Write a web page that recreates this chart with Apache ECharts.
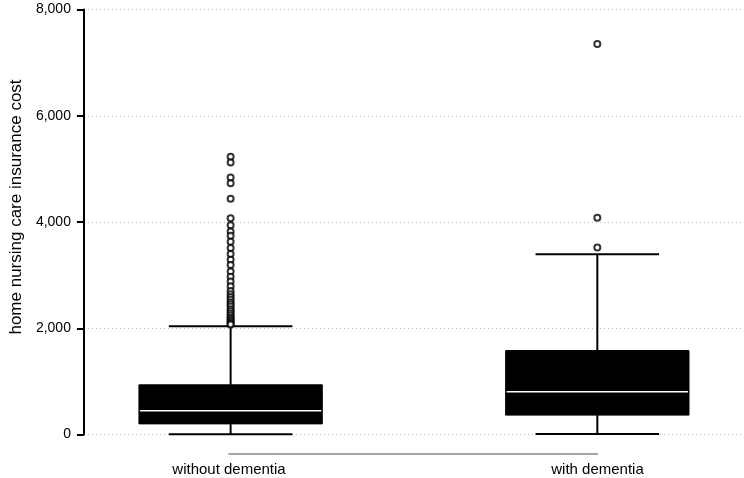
<!DOCTYPE html>
<html>
<head>
<meta charset="utf-8">
<script src="https://cdn.jsdelivr.net/npm/echarts@6/dist/echarts.min.js"></script>
<style>html,body{margin:0;padding:0;background:#fff;}#main{width:744px;height:478px;}</style>
</head>
<body>
<div id="main"></div>
<script>
// ---- data ----
var categories = ['without dementia', 'with dementia'];
// [lower whisker, Q1, median, Q3, upper whisker]
var boxStats = [
  [5, 200, 445, 935, 2040],
  [10, 365, 805, 1580, 3395]
];
var outliersWithout = [5230, 5120, 4840, 4730, 4440, 4070, 3940, 3820, 3740, 3630, 3510, 3400, 3290, 3190, 3070, 2970, 2880, 2790, 2700, 2640, 2590, 2540, 2490, 2450, 2410, 2360, 2320, 2280, 2240, 2200, 2170, 2140, 2110, 2090, 2070];
var outliersWith = [7350, 4080, 3520];
var yTicks = [0, 2000, 4000, 6000, 8000];

var boxData = boxStats.map(function (s, i) { return [i].concat(s); });
var outWithoutData = outliersWithout.map(function (v) { return [0, v]; });
var outWithData = outliersWith.map(function (v) { return [1, v]; });

var chart = echarts.init(document.getElementById('main'));
var FONT = 'Liberation Sans, Arial, sans-serif';
var BOX_W = 0.5, CAP_W = 0.337;

function renderBox(params, api) {
  var x = api.value(0);
  var lo = api.coord([x, api.value(1)]);
  var q1 = api.coord([x, api.value(2)]);
  var md = api.coord([x, api.value(3)]);
  var q3 = api.coord([x, api.value(4)]);
  var hi = api.coord([x, api.value(5)]);
  var bw = api.size([BOX_W, 0])[0];
  var cw = api.size([CAP_W, 0])[0];
  var cx = q1[0];
  var lineStyle = { stroke: '#000', lineWidth: 2 };
  return {
    type: 'group',
    children: [
      { type: 'line', shape: { x1: cx, y1: lo[1], x2: cx, y2: q1[1] }, style: lineStyle },
      { type: 'line', shape: { x1: cx, y1: q3[1], x2: cx, y2: hi[1] }, style: lineStyle },
      { type: 'line', shape: { x1: cx - cw / 2, y1: lo[1], x2: cx + cw / 2, y2: lo[1] }, style: lineStyle },
      { type: 'line', shape: { x1: cx - cw / 2, y1: hi[1], x2: cx + cw / 2, y2: hi[1] }, style: lineStyle },
      { type: 'rect', shape: { x: cx - bw / 2, y: q3[1], width: bw, height: q1[1] - q3[1] }, style: { fill: '#000', stroke: '#000', lineWidth: 1 } },
      { type: 'line', shape: { x1: cx - bw / 2 + 1, y1: md[1], x2: cx + bw / 2 - 1, y2: md[1] }, style: { stroke: '#fff', lineWidth: 1.5 } }
    ]
  };
}

var outlierStyle = { color: '#fff', borderColor: '#000', borderWidth: 2 };

chart.setOption({
  animation: false,
  backgroundColor: '#fff',
  grid: [
    { left: 81, right: 0, top: 9.5, bottom: 43.5 },
    { left: 229, right: 146.5, top: 444, bottom: 24 }
  ],
  xAxis: [
    { type: 'value', gridIndex: 0, min: -0.4, max: 1.4, show: false },
    {
      type: 'category', gridIndex: 1, data: categories, boundaryGap: false,
      axisLine: { show: true, lineStyle: { color: '#888', width: 1.5 } },
      axisTick: { show: false },
      axisLabel: { color: '#000', fontFamily: FONT, fontSize: 15, margin: 8 },
      splitLine: { show: false }
    }
  ],
  yAxis: [
    {
      type: 'value', gridIndex: 0, min: yTicks[0], max: yTicks[yTicks.length - 1], interval: 2000,
      name: 'home nursing care insurance cost', nameLocation: 'middle', nameRotate: 90, nameGap: 56,
      nameTextStyle: { color: '#000', fontFamily: FONT, fontSize: 17, padding: [0, 0, 0, 30] },
      axisLine: { show: true, onZero: false, lineStyle: { color: '#000', width: 2 } },
      axisTick: { show: true, length: 7, lineStyle: { color: '#000', width: 2 } },
      axisLabel: {
        color: '#000', fontFamily: FONT, fontSize: 14, margin: 13,
        formatter: function (v) { return v.toLocaleString('en-US'); }
      },
      splitLine: { show: true, lineStyle: { color: '#bbb', type: [1, 3], width: 1 } }
    },
    { type: 'value', gridIndex: 1, show: false, min: 0, max: 1 }
  ],
  series: [
    {
      type: 'custom', xAxisIndex: 0, yAxisIndex: 0,
      renderItem: renderBox, data: boxData,
      encode: { x: 0, y: [1, 2, 3, 4, 5] }, z: 3
    },
    {
      type: 'scatter', xAxisIndex: 0, yAxisIndex: 0, data: outWithoutData,
      symbol: 'circle', symbolSize: 6, itemStyle: outlierStyle, z: 4
    },
    {
      type: 'scatter', xAxisIndex: 0, yAxisIndex: 0, data: outWithData,
      symbol: 'circle', symbolSize: 6, itemStyle: outlierStyle, z: 4
    }
  ]
});
</script>
</body>
</html>
